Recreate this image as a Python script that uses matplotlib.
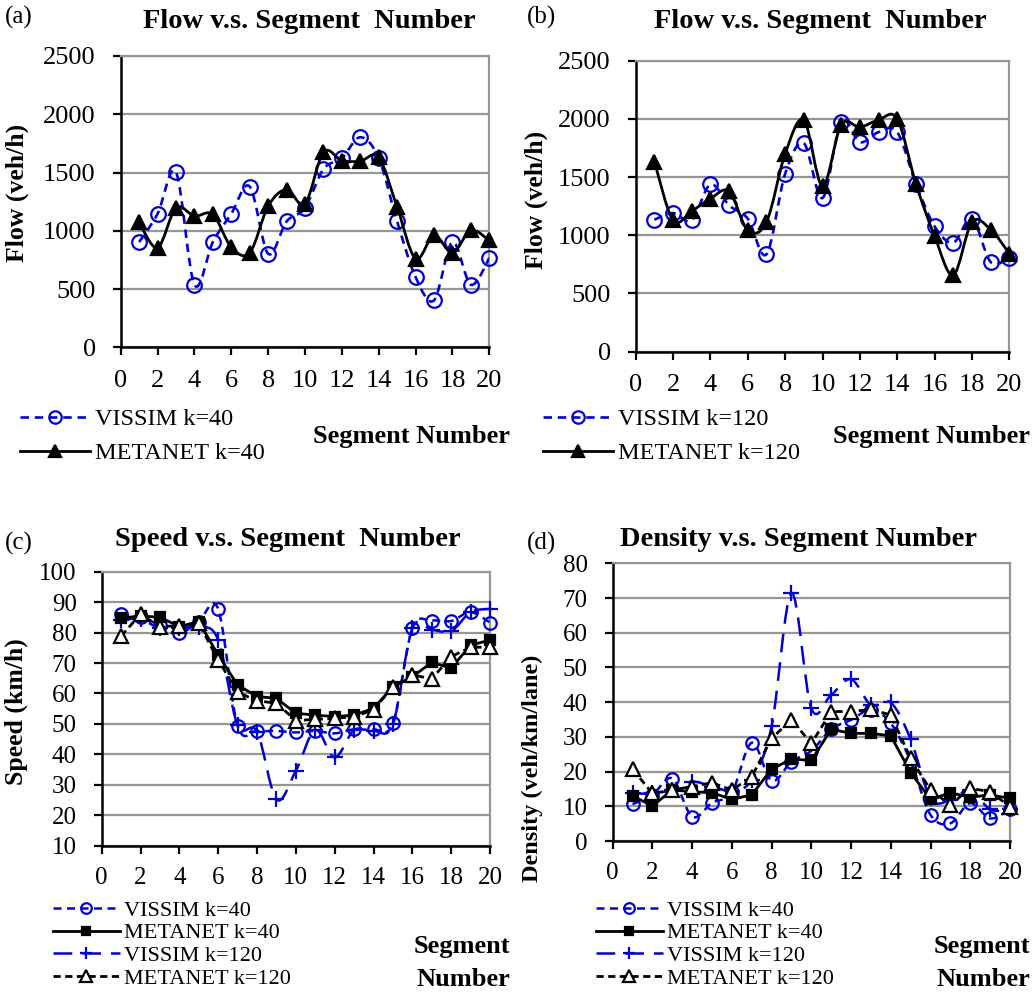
import numpy as np
import matplotlib
matplotlib.use("Agg")
import matplotlib.pyplot as plt
from matplotlib.path import Path
from matplotlib.patches import PathPatch
from matplotlib.lines import Line2D

plt.rcParams['font.family'] = ['Liberation Serif', 'DejaVu Serif']

# ---------------- data ----------------
segments = list(range(1, 21))

flow_vissim_40 = [903, 1146, 1503, 537, 903, 1146, 1380, 803, 1080, 1197,
                  1529, 1623, 1803, 1623, 1080, 603, 403, 903, 537, 766]
flow_metanet_40 = [1074, 854, 1197, 1126, 1140, 860, 811, 1211, 1354, 1231,
                   1674, 1603, 1597, 1631, 1203, 760, 960, 811, 1003, 917]

flow_vissim_120 = [1134, 1191, 1129, 1437, 1257, 1143, 837, 1529, 1791, 1320,
                   1977, 1800, 1886, 1886, 1443, 1077, 937, 1143, 771, 806]
flow_metanet_120 = [1634, 1129, 1209, 1314, 1377, 1043, 1114, 1700, 1991, 1423,
                    1949, 1929, 1991, 2000, 1443, 994, 657, 1114, 1049, 843]

speed_vissim_40 = [86.0, 85.0, 82.5, 79.8, 83.6, 87.7, 49.4, 47.7, 47.7, 47.2,
                   47.7, 46.9, 48.2, 48.2, 50.2, 81.4, 83.9, 83.8, 86.7, 83.3]
speed_metanet_40 = [84.7, 85.5, 85.0, 82.0, 83.6, 72.6, 62.8, 59.0, 58.4, 53.5,
                    52.9, 52.4, 52.9, 55.1, 62.2, 65.5, 70.2, 68.3, 75.9, 77.5]
speed_vissim_120 = [84.2, 84.4, 81.4, 81.4, 82.0, 77.6, 49.6, 47.5, 25.2, 34.6,
                    48.0, 39.0, 48.0, 47.7, 49.9, 81.4, 80.9, 80.5, 86.7, 87.8]
speed_metanet_120 = [78.9, 86.0, 82.0, 82.2, 83.0, 71.0, 60.4, 57.6, 56.8, 51.1,
                     51.5, 51.8, 52.4, 54.6, 62.2, 66.1, 64.8, 72.1, 75.2, 75.2]

dens_vissim_40 = [10.6, 13.3, 18.0, 7.0, 11.0, 14.0, 28.3, 17.4, 22.9, 26.0,
                  32.2, 34.9, 37.8, 33.9, 22.9, 7.5, 5.1, 10.9, 6.5, 9.1]
dens_metanet_40 = [13.0, 10.1, 14.7, 14.2, 13.9, 12.0, 13.3, 20.7, 23.6, 23.2,
                   32.2, 31.0, 31.0, 30.3, 19.7, 12.0, 13.9, 12.6, 13.3, 12.3]
dens_vissim_120 = [13.7, 13.7, 14.7, 17.1, 15.7, 14.5, 17.6, 33.1, 71.4, 38.2,
                   42.1, 46.6, 39.2, 39.9, 29.3, 12.3, 11.8, 14.7, 9.1, 9.1]
dens_metanet_120 = [20.7, 13.7, 14.7, 15.7, 16.8, 14.7, 18.5, 29.6, 34.9, 28.1,
                    37.3, 37.3, 37.9, 36.3, 23.8, 14.7, 10.4, 15.2, 14.2, 9.9]

x_ticks = list(range(0, 21, 2))

BLUE = '#0000D0'
GRID = '#969696'
W, H = 1036, 994


def smooth_path(x, y):
    pts = np.column_stack([x, y]).astype(float)
    n = len(pts)
    verts = [pts[0]]
    codes = [Path.MOVETO]
    for i in range(n - 1):
        p0 = pts[i - 1] if i > 0 else pts[i]
        p1 = pts[i]
        p2 = pts[i + 1]
        p3 = pts[i + 2] if i + 2 < n else pts[i + 1]
        c1 = p1 + (p2 - p0) / 6.0
        c2 = p2 - (p3 - p1) / 6.0
        verts += [c1, c2, p2]
        codes += [Path.CURVE4] * 3
    return Path(verts, codes)


def draw_series(ax, x, y, color, ls, lw, marker, ms, mfc, smooth, z):
    if smooth:
        patch = PathPatch(smooth_path(x, y), fill=False, edgecolor=color,
                          linewidth=lw, linestyle=ls, zorder=z,
                          capstyle='butt', joinstyle='round')
        ax.add_patch(patch)
        ax.plot(x, y, linestyle='none', marker=marker, ms=ms, mfc=mfc,
                mec=color, mew=1.6, zorder=z + 0.1, clip_on=False)
    else:
        ax.plot(x, y, linestyle=ls, color=color, lw=lw, marker=marker, ms=ms,
                mfc=mfc, mec=color, mew=1.6, zorder=z, clip_on=False)
    return Line2D([], [], linestyle=ls, color=color, lw=lw, marker=marker,
                  ms=ms * 0.85, mfc=mfc, mec=color, mew=1.6)


def style_axes(ax, ylim, yticks, ylabel, label_xy, tick_fs=18, xpad=15, yl_fs=18.5):
    ax.set_xlim(0, 20)
    ax.set_ylim(*ylim)
    ax.set_xticks(x_ticks)
    ax.set_yticks(yticks)
    ax.yaxis.grid(True, color=GRID, lw=1.6)
    ax.set_axisbelow(True)
    for s in ['top', 'right']:
        ax.spines[s].set_color(GRID)
        ax.spines[s].set_linewidth(1.6)
    for s in ['left', 'bottom']:
        ax.spines[s].set_color('black')
        ax.spines[s].set_linewidth(1.8)
    ax.tick_params(axis='both', direction='out', length=6, width=1.6,
                   labelsize=tick_fs, colors='black')
    ax.tick_params(axis='y', pad=12)
    ax.tick_params(axis='x', pad=xpad)
    ax.set_ylabel(ylabel, fontsize=yl_fs, fontweight='bold')
    ax.yaxis.set_label_coords(*label_xy)


fig = plt.figure(figsize=(W / 100, H / 100), dpi=100)

def fpos(l, r, top, bottom):
    return [l / W, 1 - bottom / H, (r - l) / W, (bottom - top) / H]

ax_a = fig.add_axes(fpos(120.7, 489.3, 56.0, 347.3))
ax_b = fig.add_axes(fpos(635.7, 1009.3, 60.7, 351.7))
ax_c = fig.add_axes(fpos(101.7, 490.0, 571.7, 845.7))
ax_d = fig.add_axes(fpos(612.7, 1010.0, 563.3, 841.0))

dash40 = (0, (3.2, 2.2))
dash120 = (0, (7.5, 4.0))
dashm120 = (0, (2.6, 1.6))

# (a)
h1 = draw_series(ax_a, segments, flow_vissim_40, BLUE, dash40, 1.9, 'o', 10.5, 'none', True, 3)
h2 = draw_series(ax_a, segments, flow_metanet_40, 'black', '-', 2.0, '^', 10, 'black', True, 4)
style_axes(ax_a, (0, 2500), range(0, 2501, 500), 'Flow (veh/h)', (-0.25, 0.53), 19, 10)
ax_a.legend([h1, h2], ['VISSIM k=40', 'METANET k=40'], loc='upper left',
            bbox_to_anchor=(20 / W, 1 - 408 / H), bbox_transform=fig.transFigure,
            frameon=False, fontsize=17.5, handlelength=2.9, handletextpad=0.2,
            borderpad=0, borderaxespad=0, labelspacing=0.5)

# (b)
h1 = draw_series(ax_b, segments, flow_vissim_120, BLUE, dash40, 1.9, 'o', 10.5, 'none', True, 3)
h2 = draw_series(ax_b, segments, flow_metanet_120, 'black', '-', 2.0, '^', 10, 'black', True, 4)
style_axes(ax_b, (0, 2500), range(0, 2501, 500), 'Flow (veh/h)', (-0.235, 0.52), 19, 10)
ax_b.legend([h1, h2], ['VISSIM k=120', 'METANET k=120'], loc='upper left',
            bbox_to_anchor=(543 / W, 1 - 408 / H), bbox_transform=fig.transFigure,
            frameon=False, fontsize=17.5, handlelength=2.9, handletextpad=0.2,
            borderpad=0, borderaxespad=0, labelspacing=0.5)

# (c)
hc1 = draw_series(ax_c, segments, speed_vissim_40, BLUE, dash40, 1.8, 'o', 9, 'none', True, 3)
hc2 = draw_series(ax_c, segments, speed_metanet_40, 'black', '-', 2.0, 's', 7.5, 'black', False, 5)
hc3 = draw_series(ax_c, segments, speed_vissim_120, BLUE, dash120, 1.8, '+', 11, 'none', True, 4)
hc4 = draw_series(ax_c, segments, speed_metanet_120, 'black', dashm120, 2.0, '^', 10, 'white', False, 6)
style_axes(ax_c, (10, 100), range(10, 101, 10), 'Speed (km/h)', (-0.19, 0.49), 18, 9)
ax_c.legend([hc1, hc2, hc3, hc4], ['VISSIM k=40', 'METANET k=40', 'VISSIM k=120', 'METANET k=120'],
            loc='upper left', bbox_to_anchor=(53 / W, 1 - 900 / H),
            bbox_transform=fig.transFigure, frameon=False, fontsize=16,
            handlelength=3.0, handletextpad=0.2, borderpad=0, borderaxespad=0,
            labelspacing=0.1)

# (d)
hd1 = draw_series(ax_d, segments, dens_vissim_40, BLUE, dash40, 1.8, 'o', 9, 'none', True, 3)
hd2 = draw_series(ax_d, segments, dens_metanet_40, 'black', '-', 2.0, 's', 7.5, 'black', False, 5)
hd3 = draw_series(ax_d, segments, dens_vissim_120, BLUE, dash120, 1.8, '+', 11, 'none', True, 4)
hd4 = draw_series(ax_d, segments, dens_metanet_120, 'black', dashm120, 2.0, '^', 10, 'white', False, 6)
style_axes(ax_d, (0, 80), range(0, 81, 10), 'Density (veh/km/lane)', (-0.175, 0.26), 18, 9, 17.5)
ax_d.legend([hd1, hd2, hd3, hd4], ['VISSIM k=40', 'METANET k=40', 'VISSIM k=120', 'METANET k=120'],
            loc='upper left', bbox_to_anchor=(596 / W, 1 - 900 / H),
            bbox_transform=fig.transFigure, frameon=False, fontsize=16,
            handlelength=3.0, handletextpad=0.2, borderpad=0, borderaxespad=0,
            labelspacing=0.1)

# titles, panel letters, x labels
def ftxt(x, y, s, **kw):
    fig.text(x / W, 1 - y / H, s, **kw)

ftxt(309, 22, 'Flow v.s. Segment  Number', fontsize=20.5, fontweight='bold', ha='center', va='center')
ftxt(820, 22, 'Flow v.s. Segment  Number', fontsize=20.5, fontweight='bold', ha='center', va='center')
ftxt(288, 540, 'Speed v.s. Segment  Number', fontsize=20.5, fontweight='bold', ha='center', va='center')
ftxt(799, 540, 'Density v.s. Segment Number', fontsize=20.5, fontweight='bold', ha='center', va='center')

ftxt(5, 17, '(a)', fontsize=18, ha='left', va='center')
ftxt(527, 17, '(b)', fontsize=18, ha='left', va='center')
ftxt(5, 543, '(c)', fontsize=18, ha='left', va='center')
ftxt(527, 543, '(d)', fontsize=18, ha='left', va='center')

ftxt(510, 437, 'Segment Number', fontsize=19, fontweight='bold', ha='right', va='center')
ftxt(1030, 437, 'Segment Number', fontsize=19, fontweight='bold', ha='right', va='center')
ftxt(510, 947, 'Segment', fontsize=19, fontweight='bold', ha='right', va='center')
ftxt(510, 980, 'Number', fontsize=19, fontweight='bold', ha='right', va='center')
ftxt(1030, 947, 'Segment', fontsize=19, fontweight='bold', ha='right', va='center')
ftxt(1030, 980, 'Number', fontsize=19, fontweight='bold', ha='right', va='center')

fig.savefig('out.png', dpi=100)
